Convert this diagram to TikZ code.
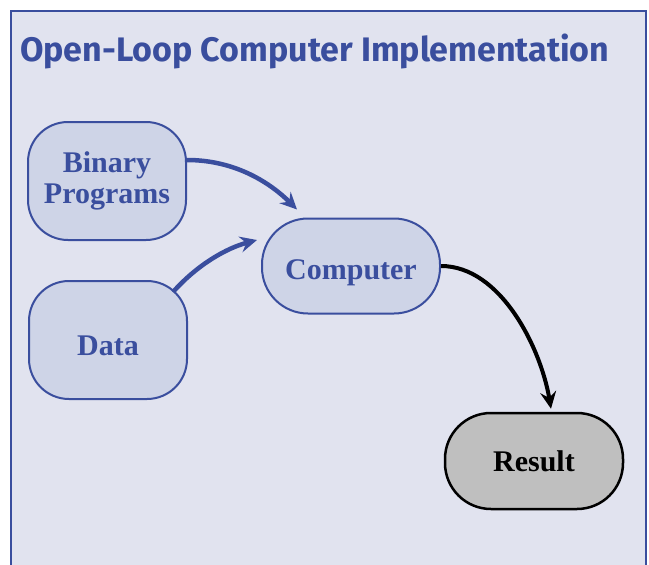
\documentclass[tikz,border=0pt]{standalone}
\usepackage{fontspec}
\setmainfont{Liberation Serif}
\newfontfamily\titlefont{Fira Sans}
\usetikzlibrary{arrows.meta}
\definecolor{panelbg}{HTML}{E1E3EF}
\definecolor{boxfill}{HTML}{CED4E7}
\definecolor{ink}{HTML}{3A4E9E}
\definecolor{resultfill}{HTML}{BFBFBF}
% a label whose baseline sits the given distance below the node centre
\newcommand{\lowlabel}[2]{\raisebox{-#1}[0pt][0pt]{#2}}
\tikzset{
  box/.style={draw=ink, line width=2pt, fill=boxfill, rounded corners=40pt,
    align=center, text=ink, font=\bfseries\fontsize{30}{31}\selectfont},
  outbox/.style={draw=black, line width=2.5pt, fill=resultfill, rounded corners=46pt,
    align=center, text=black, font=\bfseries\fontsize{30}{31}\selectfont},
  inarrow/.style={draw=ink, line width=4.5pt, -{Stealth[length=17pt,width=16pt,inset=6pt]}},
  outarrow/.style={draw=black, line width=4pt, -{Stealth[length=17pt,width=16pt,inset=6pt]}},
}
\begin{document}
\begin{tikzpicture}[x=1pt,y=-1pt]
\useasboundingbox (0,0) rectangle (649,565);
% panel
\fill[white] (0,0) rectangle (649,565);
\fill[panelbg] (11,11) rectangle (646,570);
\draw[ink, line width=2.5pt] (11,575) -- (11,11) -- (646,11) -- (646,575);
\node[anchor=west, text=ink, font=\titlefont\bfseries\fontsize{34}{38}\selectfont, inner sep=0pt]
  (title) at (20,51) {Open-Loop Computer Implementation};
% nodes
\node[box, minimum width=158pt, minimum height=118pt] (prog) at (107,181) {Binary\\Programs};
\node[box, minimum width=158pt, minimum height=118pt] (data) at (108,340) {\lowlabel{15pt}{Data}};
\node[box, rounded corners=46pt, minimum width=178pt, minimum height=95pt] (comp) at (351,266) {\lowlabel{13pt}{Computer}};
\node[outbox, minimum width=178pt, minimum height=96pt] (res) at (534,461) {Result};
% connectors
\coordinate (progout) at ([yshift=21pt]prog.east);
\draw[inarrow] (progout) .. controls +(50,0) and +(-25,-25) .. ([xshift=-54pt,yshift=8pt]comp.north);
\draw[inarrow] ([xshift=-15pt,yshift=-12pt]data.north east) .. controls +(25,-28) and +(-30,8) .. ([xshift=-4pt,yshift=26pt]comp.west);
\draw[outarrow] (comp.east) .. controls +(60,0) and +(-10,-60) .. ([xshift=17pt,yshift=3pt]res.north);
\end{tikzpicture}
\end{document}
